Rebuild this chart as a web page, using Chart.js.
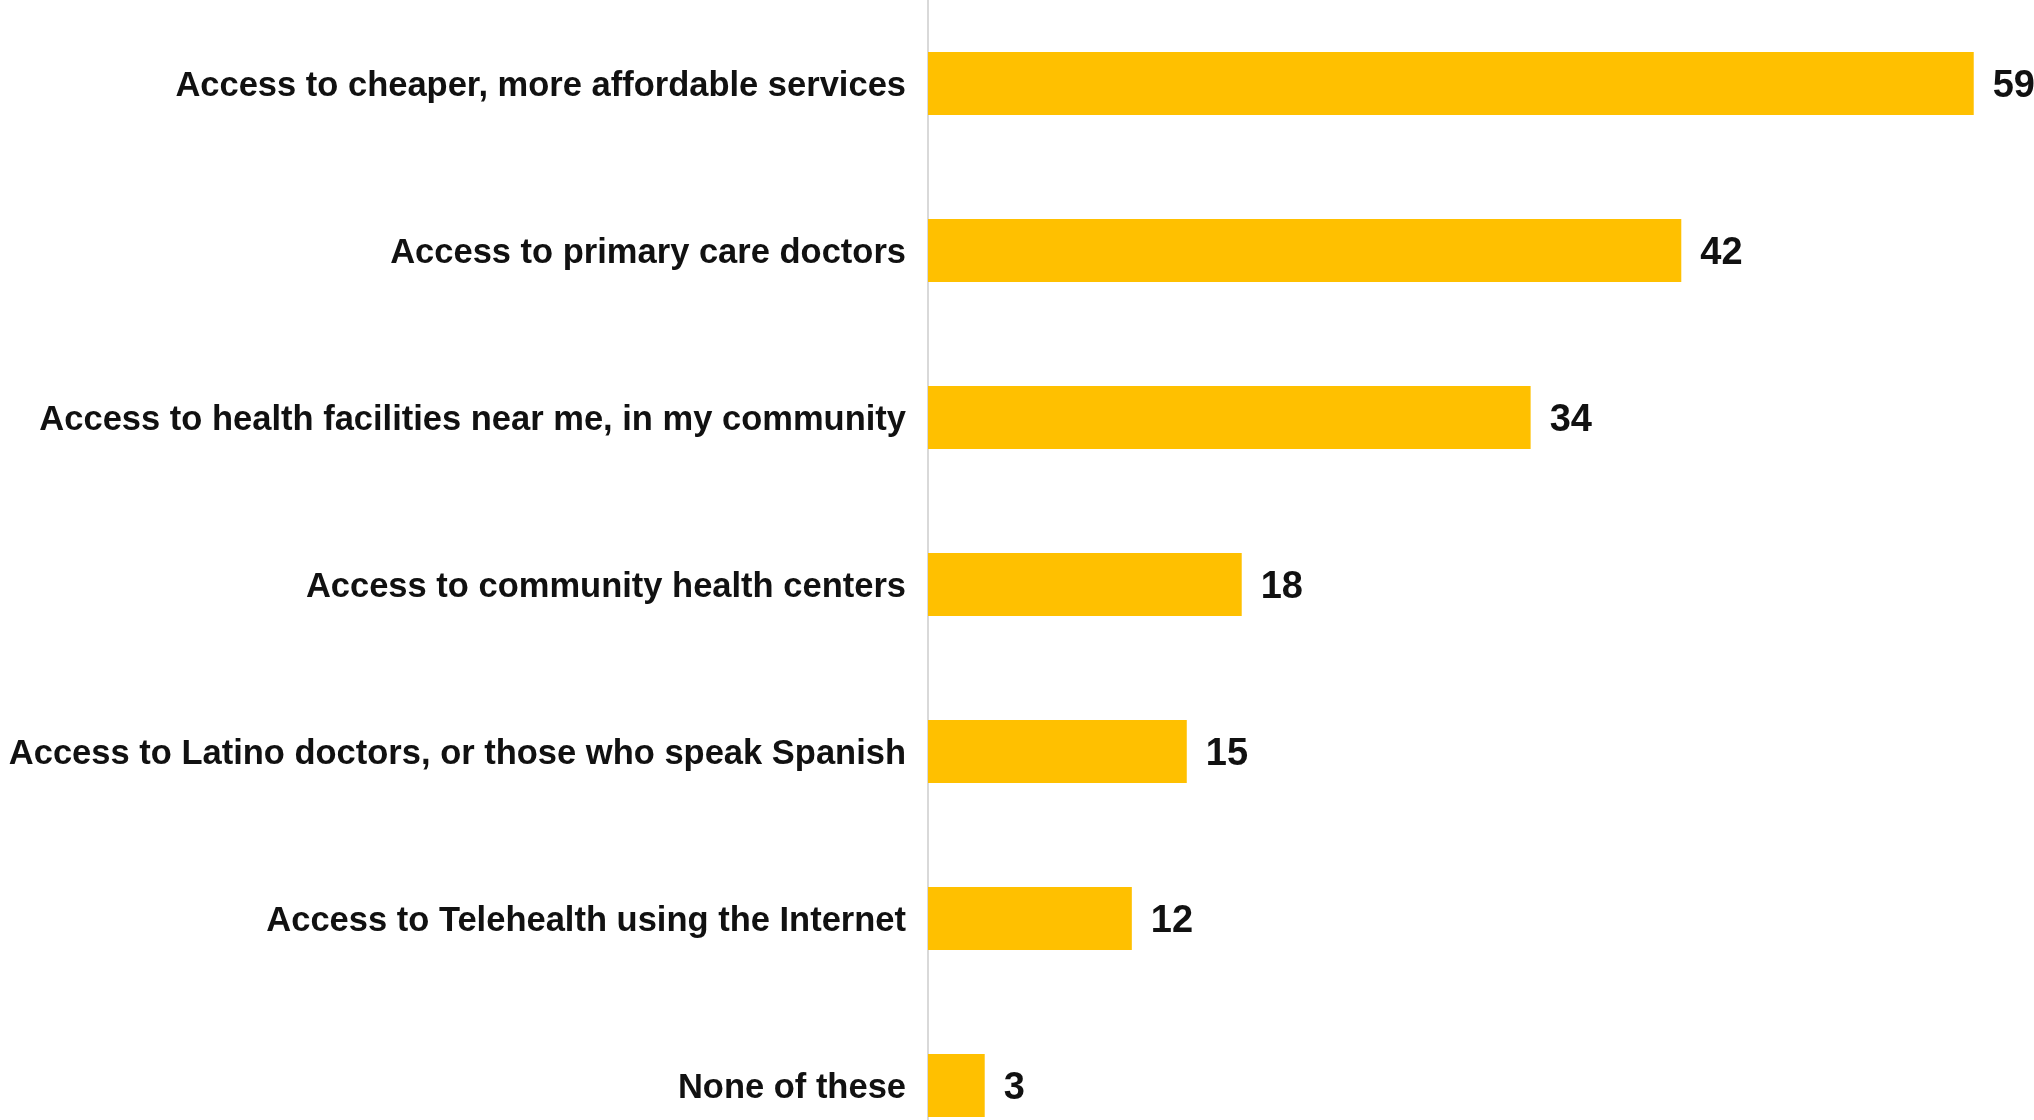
<!DOCTYPE html>
<html>
<head>
<meta charset="utf-8">
<script src="https://cdn.jsdelivr.net/npm/chart.js@4"></script>
<style>
  html, body { margin: 0; padding: 0; background: #fff; overflow: hidden; }
</style>
</head>
<body>
<canvas id="chart" width="2034" height="1169"></canvas>
<script>
const categories = [
  'Access to cheaper, more affordable services',
  'Access to primary care doctors',
  'Access to health facilities near me, in my community',
  'Access to community health centers',
  'Access to Latino doctors, or those who speak Spanish',
  'Access to Telehealth using the Internet',
  'None of these'
];
// bar lengths; labels show them rounded
const values = [59, 42.5, 34, 17.7, 14.6, 11.5, 3.2];
const valueLabels = ['59', '42', '34', '18', '15', '12', '3'];

// value labels at the end of each bar
const barLabels = {
  id: 'barLabels',
  afterDatasetsDraw(chart) {
    const ctx = chart.ctx;
    const meta = chart.getDatasetMeta(0);
    ctx.save();
    ctx.font = 'bold 38px "Liberation Sans", Arial, sans-serif';
    ctx.fillStyle = '#111111';
    ctx.textAlign = 'left';
    ctx.textBaseline = 'middle';
    meta.data.forEach((bar, i) => {
      ctx.fillText(valueLabels[i], bar.x + 19, bar.y + 3);
    });
    ctx.restore();
  }
};

new Chart(document.getElementById('chart'), {
  type: 'bar',
  data: {
    labels: categories,
    datasets: [{
      data: values,
      backgroundColor: '#FFC000',
      borderWidth: 0,
      categoryPercentage: 1,
      barPercentage: 0.377
    }]
  },
  options: {
    indexAxis: 'y',
    responsive: false,
    animation: false,
    devicePixelRatio: 1,
    layout: { padding: 0 },
    plugins: {
      legend: { display: false },
      tooltip: { enabled: false }
    },
    scales: {
      x: {
        display: false,
        min: 0,
        max: 62.4
      },
      y: {
        afterFit(scale) {
          scale.width = 928;
          scale.paddingTop = 0;
          scale.paddingBottom = 0;
        },
        grid: { display: false, drawTicks: false },
        border: { display: true, color: '#d9d9d9', width: 2 },
        ticks: {
          padding: 22,
          labelOffset: 2.5,
          color: '#111111',
          font: { family: '"Liberation Sans", Arial, sans-serif', size: 34.5, weight: 'bold' }
        }
      }
    }
  },
  plugins: [barLabels]
});
</script>
</body>
</html>
